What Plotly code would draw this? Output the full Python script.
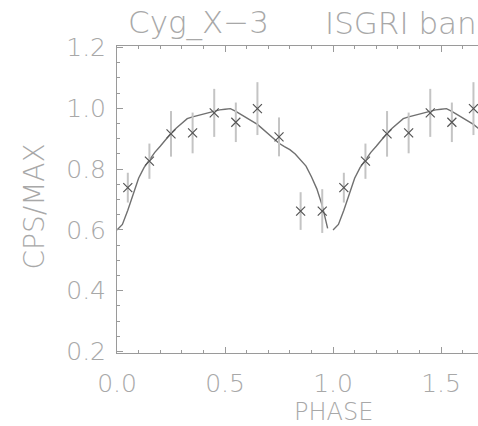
import plotly.graph_objects as go

# Observed folded light curve (phase, normalised rate, error)
phase = [0.05, 0.15, 0.25, 0.35, 0.45, 0.55, 0.65, 0.75, 0.85, 0.95,
         1.05, 1.15, 1.25, 1.35, 1.45, 1.55, 1.65]
rate = [0.739, 0.826, 0.916, 0.919, 0.985, 0.954, 0.999, 0.906, 0.662, 0.662,
        0.739, 0.826, 0.916, 0.919, 0.985, 0.954, 0.999]
err = [0.049, 0.058, 0.075, 0.067, 0.079, 0.065, 0.087, 0.064, 0.062, 0.072,
       0.049, 0.058, 0.075, 0.067, 0.079, 0.065, 0.087]

# Model curve (one cycle), repeated for the second cycle
model_phase = [0.000, 0.025, 0.050, 0.075, 0.100, 0.125, 0.150, 0.175, 0.200,
               0.225, 0.250, 0.275, 0.300, 0.325, 0.350, 0.375, 0.400, 0.425,
               0.450, 0.475, 0.500, 0.525, 0.550, 0.575, 0.600, 0.625, 0.650,
               0.675, 0.700, 0.725, 0.750, 0.775, 0.800, 0.825, 0.850, 0.875,
               0.900, 0.925, 0.950, 0.975]
model_rate = [0.600, 0.618, 0.665, 0.720, 0.770, 0.805, 0.830, 0.855, 0.875,
              0.898, 0.918, 0.935, 0.952, 0.966, 0.972, 0.977, 0.982, 0.987,
              0.992, 0.995, 0.997, 0.999, 0.990, 0.980, 0.968, 0.958, 0.947,
              0.932, 0.916, 0.900, 0.885, 0.874, 0.864, 0.850, 0.830, 0.810,
              0.775, 0.735, 0.680, 0.605]

x_ticks = [0.0, 0.5, 1.0, 1.5]
x_labels = ["0.0", "0.5", "1.0", "1.5"]
y_ticks = [0.2, 0.4, 0.6, 0.8, 1.0, 1.2]
y_labels = ["0.2", "0.4", "0.6", "0.8", "1.0", "1.2"]

title_left = "Cyg_X\u22123"
title_right = "ISGRI ban"
x_title = "PHASE"
y_title = "CPS/MAX"

FONT = "DejaVu Sans ExtraLight, DejaVu Sans"
TXT = "#a8a8a8"
AX = "#9a9a9a"

fig = go.Figure()

for cyc in (0, 1):
    fig.add_trace(go.Scatter(
        x=[p + cyc for p in model_phase], y=model_rate, mode="lines",
        line=dict(color="#707070", width=1.4), showlegend=False,
        hoverinfo="skip"))

fig.add_trace(go.Scatter(
    x=phase, y=rate, mode="markers",
    marker=dict(symbol="x-thin", size=9, line=dict(color="#555555", width=1.2)),
    error_y=dict(type="data", array=err, visible=True, color="#c4c4c4",
                 thickness=2, width=0),
    showlegend=False))

tickfont = dict(size=25, color=TXT, family=FONT, weight=200)

fig.update_layout(
    width=478, height=426,
    margin=dict(l=117, r=0, t=46, b=73),
    paper_bgcolor="white", plot_bgcolor="white",
    font=dict(family=FONT, color=TXT, size=24),
    xaxis=dict(range=[0, 1.671], tickvals=x_ticks, ticktext=x_labels,
               showgrid=False, zeroline=False, showline=True, linecolor=AX,
               linewidth=1, mirror="ticks", ticks="inside", ticklen=6,
               tickcolor=AX, tickfont=tickfont, ticklabelstandoff=8,
               minor=dict(ticks="inside", dtick=0.1, ticklen=3, tickcolor=AX,
                          showgrid=False)),
    yaxis=dict(range=[0.195, 1.205], tickvals=y_ticks, ticktext=y_labels,
               showgrid=False, zeroline=False, showline=True, linecolor=AX,
               linewidth=1, mirror=False, ticks="inside", ticklen=6,
               tickcolor=AX, tickfont=tickfont, ticklabelstandoff=5,
               minor=dict(ticks="inside", dtick=0.05, ticklen=3, tickcolor=AX,
                          showgrid=False)),
)

fig.add_annotation(text=title_left, xref="paper", yref="paper",
                   x=(126 - 117) / 361, y=1, xanchor="left", yanchor="bottom",
                   yshift=3, showarrow=False,
                   font=dict(size=31, color=TXT, family=FONT, weight=200))
fig.add_annotation(text=title_right, xref="paper", yref="paper",
                   x=(323 - 117) / 361, y=1, xanchor="left", yanchor="bottom",
                   yshift=3, showarrow=False,
                   font=dict(size=31, color=TXT, family=FONT, weight=200))
fig.add_annotation(text=x_title, xref="x", yref="paper", x=1.0, y=0,
                   xanchor="center", yanchor="top", yshift=-43,
                   showarrow=False,
                   font=dict(size=24, color=TXT, family=FONT, weight=200))
fig.add_annotation(text=y_title, xref="paper", yref="paper",
                   x=0, y=0.5, xanchor="center", yanchor="middle",
                   xshift=-83, yshift=-7, textangle=-90,
                   showarrow=False,
                   font=dict(size=28, color=TXT, family=FONT, weight=200))

fig.write_html("out.html")
